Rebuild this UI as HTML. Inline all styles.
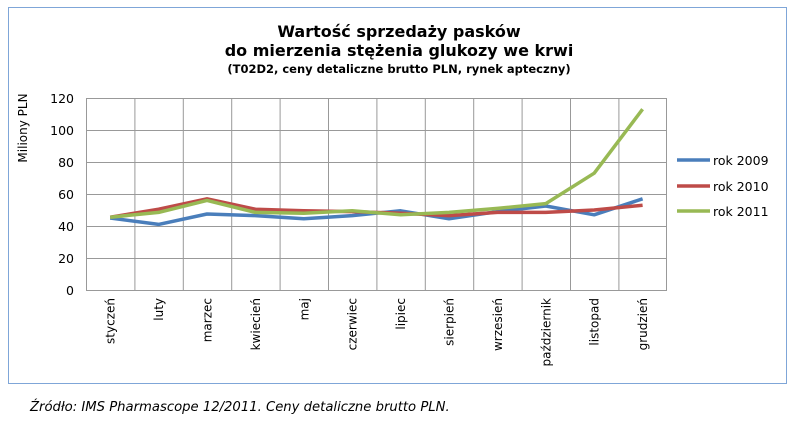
<!DOCTYPE html>
<html><head><meta charset="utf-8"><style>
body{margin:0;background:#fff;width:800px;height:426px;overflow:hidden}
</style></head><body>
<svg width="800" height="426" xmlns="http://www.w3.org/2000/svg" font-family="Verdana, 'DejaVu Sans', sans-serif">
<rect x="8.5" y="7.5" width="778" height="376" fill="#fff" stroke="#7fa6d8" stroke-width="1"/>
<g text-anchor="middle" font-weight="bold" fill="#000">
<text x="399" y="37" font-size="16">Wartość  sprzedaży pasków</text>
<text x="399" y="56" font-size="16">do mierzenia stężenia glukozy we krwi</text>
<text x="399" y="73" font-size="11.5">(T02D2, ceny detaliczne brutto PLN, rynek apteczny)</text>
</g>
<g stroke="#999" stroke-width="1" fill="none">
<path d="M86 98.5H667M86 130.5H667M86 162.5H667M86 194.5H667M86 226.5H667M86 258.5H667M86 290.5H667"/>
<path d="M86.5 98V290M134.9 98V290M183.3 98V290M231.7 98V290M280.1 98V290M328.5 98V290M376.9 98V290M425.3 98V290M473.7 98V290M522.1 98V290M570.5 98V290M618.9 98V290M666.5 98V290"/>
</g>
<g font-size="12.5" text-anchor="end" fill="#000">
<text x="74" y="103">120</text><text x="74" y="135">100</text><text x="74" y="167">80</text><text x="74" y="199">60</text><text x="74" y="231">40</text><text x="74" y="263">20</text><text x="74" y="295">0</text>
</g>
<text transform="translate(27,128) rotate(-90)" font-size="12" text-anchor="middle">Miliony PLN</text>
<g font-size="12" text-anchor="end">
<text transform="translate(114.7,298) rotate(-90)">styczeń</text>
<text transform="translate(163.1,298) rotate(-90)">luty</text>
<text transform="translate(211.5,298) rotate(-90)">marzec</text>
<text transform="translate(259.9,298) rotate(-90)">kwiecień</text>
<text transform="translate(308.3,298) rotate(-90)">maj</text>
<text transform="translate(356.7,298) rotate(-90)">czerwiec</text>
<text transform="translate(405.1,298) rotate(-90)">lipiec</text>
<text transform="translate(453.5,298) rotate(-90)">sierpień</text>
<text transform="translate(501.9,298) rotate(-90)">wrzesień</text>
<text transform="translate(550.3,298) rotate(-90)">październik</text>
<text transform="translate(598.7,298) rotate(-90)">listopad</text>
<text transform="translate(647.1,298) rotate(-90)">grudzień</text>
</g>
<g fill="none" stroke-width="3.5" stroke-linejoin="round">
<polyline stroke="#4a7ebb" points="110.2,218 158.6,224.4 207,214 255.4,215.6 303.8,218.8 352.2,215.6 400.6,210.8 449,218.8 497.4,211.6 545.8,206 594.2,214.8 642.6,198.8"/>
<polyline stroke="#be4b48" points="110.2,217.2 158.6,209.2 207,198.8 255.4,209.2 303.8,210.8 352.2,211.6 400.6,213.2 449,215.6 497.4,212.4 545.8,212.4 594.2,210 642.6,205.2"/>
<polyline stroke="#98b954" points="110.2,217.2 158.6,212.4 207,200.4 255.4,212.4 303.8,213.2 352.2,210.8 400.6,214.8 449,212.4 497.4,208.4 545.8,203.6 594.2,173.2 642.6,109.2"/>
</g>
<g stroke-width="3.5">
<line x1="677" y1="160" x2="710" y2="160" stroke="#4a7ebb"/>
<line x1="677" y1="186" x2="710" y2="186" stroke="#be4b48"/>
<line x1="677" y1="211" x2="710" y2="211" stroke="#98b954"/>
</g>
<g font-size="12.5">
<text x="713" y="165">rok 2009</text><text x="713" y="191">rok 2010</text><text x="713" y="216">rok 2011</text>
</g>
<text x="30" y="411" font-size="13.2" font-style="italic">Źródło: IMS Pharmascope 12/2011. Ceny detaliczne brutto PLN.</text>
</svg>
</body></html>
